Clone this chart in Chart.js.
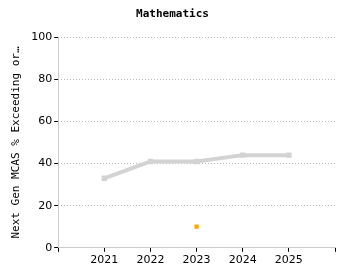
<!DOCTYPE html>
<html>
<head>
<meta charset="utf-8">
<script src="https://cdn.jsdelivr.net/npm/chart.js@4"></script>
<style>
  html, body { margin: 0; padding: 0; background: #fff; }
  #wrap { width: 350px; height: 280px; }
</style>
</head>
<body>
<div id="wrap"><canvas id="chart"></canvas></div>
<script>
const years = [2021, 2022, 2023, 2024, 2025];
const stateValues = [33, 41, 41, 44, 44];
const schoolYears = [2023];
const schoolValues = [10];
const yTicks = [0, 20, 40, 60, 80, 100];

const ctx = document.getElementById("chart").getContext("2d");
new Chart(ctx, {
    type: "line",
    data: {
        datasets: [
            {
                label: "State",
                data: years.map((y, i) => ({ x: y, y: stateValues[i] })),
                borderColor: "#d3d3d3",
                backgroundColor: "#d3d3d3",
                borderWidth: 4,
                pointRadius: 1,
                pointStyle: "rect",
                tension: 0
            },
            {
                label: "School",
                data: schoolYears.map((y, i) => ({ x: y, y: schoolValues[i] })),
                borderColor: "#ffa500",
                backgroundColor: "#ffa500",
                showLine: false,
                pointStyle: "rect",
                pointRadius: 3,
                pointBorderWidth: 0
            }
        ]
    },
    options: {
        responsive: true,
        maintainAspectRatio: false,
        animation: false,
        layout: { padding: { top: 0, right: 15, bottom: 11, left: 10 } },
        plugins: {
            legend: { display: false },
            tooltip: { enabled: false },
            title: {
                display: true,
                text: "Mathematics",
                color: "#000",
                font: { family: "'DejaVu Sans Mono'", size: 11, weight: "bold" },
                padding: { top: 8, bottom: 16 }
            }
        },
        scales: {
            x: {
                type: "linear",
                min: 2020,
                max: 2026,
                afterBuildTicks: axis => {
                    axis.ticks = [2020, 2021, 2022, 2023, 2024, 2025, 2026].map(v => ({ value: v }));
                },
                ticks: {
                    color: "#000",
                    font: { family: "'DejaVu Sans'", size: 11 },
                    maxRotation: 0,
                    padding: 2,
                    callback: v => (years.includes(v) ? String(v) : "")
                },
                grid: {
                    drawOnChartArea: true,
                    color: c => (c.tick && c.tick.value === 2020 ? "#cccccc" : "rgba(0,0,0,0)"),
                    drawTicks: true,
                    tickLength: 4,
                    tickColor: "#000"
                },
                border: { color: "#cccccc", width: 1 }
            },
            y: {
                min: 0,
                max: 100,
                afterBuildTicks: axis => {
                    axis.ticks = yTicks.map(v => ({ value: v }));
                },
                title: {
                    display: true,
                    text: "Next Gen MCAS % Exceeding or…",
                    color: "#000",
                    font: { family: "'DejaVu Sans Mono'", size: 11 },
                    padding: { top: 0, bottom: 6 }
                },
                ticks: {
                    color: "#000",
                    font: { family: "'DejaVu Sans'", size: 11 },
                    padding: 2
                },
                grid: {
                    color: "#bbbbbb",
                    tickColor: "#000",
                    tickLength: 4,
                    lineWidth: 1
                },
                border: { display: false, dash: [1, 2] }
            }
        }
    }
});
</script>
</body>
</html>
